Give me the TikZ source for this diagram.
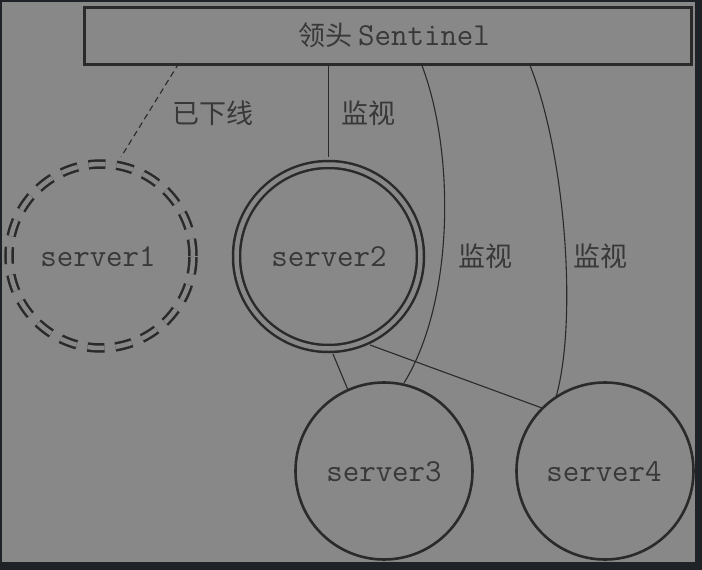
\documentclass[tikz,border=0pt]{standalone}
\usepackage{fontspec}
\newfontfamily\cjk{Noto Sans CJK SC}
\definecolor{bg}{HTML}{888888}
\definecolor{frame}{HTML}{1F2226}
\definecolor{ink}{HTML}{2A2A2A}
\definecolor{txt}{HTML}{383838}
\begin{document}
\begin{tikzpicture}[x=1pt,y=-1pt,
  mono/.style={font=\ttfamily\fontsize{32}{35}\selectfont, text=txt},
  cn/.style={font=\cjk\fontsize{27}{30}\selectfont, text=txt},
  thin/.style={draw=ink, line width=1.1pt},
  srv/.style={circle, draw=ink, line width=2.6pt, minimum size=177pt, inner sep=0pt},
  dbl/.style={circle, draw=ink, line width=2.5pt, double=bg, double distance=4.5pt, minimum size=184pt, inner sep=0pt}]
\useasboundingbox (0,0) rectangle (702,570);
\fill[frame] (0,0) rectangle (702,570);
\fill[bg] (2,1.5) rectangle (695,562);
% leader box
\node[draw=ink, line width=3pt, minimum width=607pt, minimum height=57pt, inner sep=0pt, anchor=north west] (lead) at (83,6) {};
\node[anchor=center] (title) at (394,35) {\cjk\fontsize{27}{30}\selectfont\color{txt}领头 \ttfamily\fontsize{32}{35}\selectfont Sentinel};
% servers
\node[dbl, dashed, dash pattern=on 17pt off 11pt] (s1) at (101,256) {};
\node[mono] at (98,257) {server1};
\node[dbl] (s2) at (328.5,256.5) {};
\node[mono] at (329,257) {server2};
\node[srv] (s3) at (384,471) {};
\node[mono] at (384,472) {server3};
\node[srv] (s4) at (605,471) {};
\node[mono] at (604,472) {server4};
% anchors on the box
\coordinate (b1) at (179,63);
\coordinate (b2) at (328.5,63);
\coordinate (b3) at (421,63);
\coordinate (b4) at (529,63);
\coordinate (t1) at (121,157);
\coordinate (t2) at (328.5,157);
\coordinate (t3) at (404,383);
\coordinate (t4) at (556,397);
\coordinate (u3) at (348,390);
\coordinate (u4) at (542,408);
\coordinate (v3) at (333,354);
\coordinate (v4) at (370,345);
% connectors
\draw[thin, dashed, dash pattern=on 6pt off 4pt] (b1) -- (t1);
\draw[thin] (b2) -- (t2);
\draw[thin] (b3) .. controls (455,150) and (455,300) .. (t3);
\draw[thin] (b4) .. controls (565,150) and (578,320) .. (t4);
\draw[thin] (v3) -- (u3);
\draw[thin] (v4) -- (u4);
% labels
\node[cn] at (213,113) {已下线};
\node[cn] at (368,113) {监视};
\node[cn] at (485,256) {监视};
\node[cn] at (600,256) {监视};
\end{tikzpicture}
\end{document}
